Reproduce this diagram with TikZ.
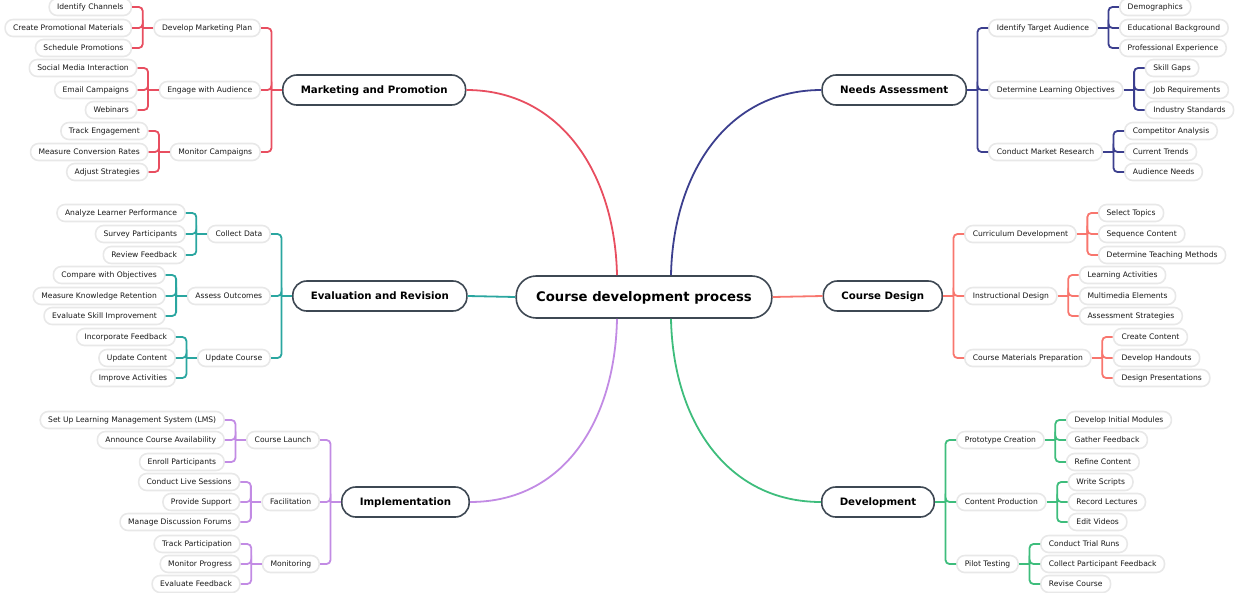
\documentclass[tikz,border=0pt]{standalone}
\usepackage{fontspec}
\setmainfont{DejaVu Sans}
\usetikzlibrary{positioning}

\definecolor{mkred}{HTML}{E84E60}
\definecolor{nanavy}{HTML}{3C3F8E}
\definecolor{evteal}{HTML}{2AA6A0}
\definecolor{cdcoral}{HTML}{F8766E}
\definecolor{imlilac}{HTML}{C28BE4}
\definecolor{dvgreen}{HTML}{3EBD7C}
\definecolor{boxedge}{HTML}{3E4853}

\begin{document}
\begin{tikzpicture}[x=1pt, y=-1pt, node distance=21pt,
  root/.style={draw=boxedge, line width=1.6pt, fill=white, rounded corners=20pt,
    minimum height=42pt, inner xsep=20pt, text height=9.6pt, text depth=1.5pt,
    font=\fontsize{13.2}{15}\selectfont\bfseries},
  topic/.style={draw=boxedge, line width=1.6pt, fill=white, rounded corners=14pt,
    minimum height=30pt, inner xsep=18pt, text height=7.4pt, text depth=1.2pt,
    font=\fontsize{10.2}{12}\selectfont\bfseries},
  leaf/.style={draw=black!9, line width=1.6pt, fill=white, rounded corners=8pt,
    minimum height=17pt, inner xsep=8pt, inner ysep=0pt, text=black!90,
    text height=5.5pt, text depth=1pt, font=\fontsize{7.6}{9}\selectfont},
  branch/.style={line width=1.8pt},
  fork/.style={line width=1.8pt, rounded corners=4pt}]
  \useasboundingbox (0,0) rectangle (1240,592);

  \node[root] (root) at (644,297) {Course development process};

  \node[topic, anchor=west] (mk) at (282,90) {Marketing and Promotion};
  \node[topic, anchor=east] (na) at (967,90) {Needs Assessment};
  \node[topic, anchor=west] (ev) at (292,296) {Evaluation and Revision};
  \node[topic, anchor=east] (cd) at (943,296) {Course Design};
  \node[topic, anchor=west] (im) at (341,502) {Implementation};
  \node[topic, anchor=east] (dv) at (935,502) {Development};

  % marketing
  \node[leaf, left=of mk, yshift=62pt] (mk1) {Develop Marketing Plan};
  \node[leaf, left=of mk] (mk2) {Engage with Audience};
  \node[leaf, left=of mk, yshift=-62pt] (mk3) {Monitor Campaigns};
  \node[leaf, left=of mk1, yshift=21pt] (mk11) {Identify Channels};
  \node[leaf, left=of mk1] (mk12) {Create Promotional Materials};
  \node[leaf, left=of mk1, yshift=-20pt] (mk13) {Schedule Promotions};
  \node[leaf, left=of mk2, yshift=22pt] (mk21) {Social Media Interaction};
  \node[leaf, left=of mk2] (mk22) {Email Campaigns};
  \node[leaf, left=of mk2, yshift=-20pt] (mk23) {Webinars};
  \node[leaf, left=of mk3, yshift=21pt] (mk31) {Track Engagement};
  \node[leaf, left=of mk3] (mk32) {Measure Conversion Rates};
  \node[leaf, left=of mk3, yshift=-20pt] (mk33) {Adjust Strategies};

  % needs assessment
  \node[leaf, right=of na, yshift=62pt] (na1) {Identify Target Audience};
  \node[leaf, right=of na] (na2) {Determine Learning Objectives};
  \node[leaf, right=of na, yshift=-62pt] (na3) {Conduct Market Research};
  \node[leaf, right=of na1, yshift=21pt] (na11) {Demographics};
  \node[leaf, right=of na1] (na12) {Educational Background};
  \node[leaf, right=of na1, yshift=-20pt] (na13) {Professional Experience};
  \node[leaf, right=of na2, yshift=22pt] (na21) {Skill Gaps};
  \node[leaf, right=of na2] (na22) {Job Requirements};
  \node[leaf, right=of na2, yshift=-20pt] (na23) {Industry Standards};
  \node[leaf, right=of na3, yshift=21pt] (na31) {Competitor Analysis};
  \node[leaf, right=of na3] (na32) {Current Trends};
  \node[leaf, right=of na3, yshift=-20pt] (na33) {Audience Needs};

  % evaluation
  \node[leaf, left=of ev, yshift=62pt] (ev1) {Collect Data};
  \node[leaf, left=of ev] (ev2) {Assess Outcomes};
  \node[leaf, left=of ev, yshift=-62pt] (ev3) {Update Course};
  \node[leaf, left=of ev1, yshift=21pt] (ev11) {Analyze Learner Performance};
  \node[leaf, left=of ev1] (ev12) {Survey Participants};
  \node[leaf, left=of ev1, yshift=-21pt] (ev13) {Review Feedback};
  \node[leaf, left=of ev2, yshift=21pt] (ev21) {Compare with Objectives};
  \node[leaf, left=of ev2] (ev22) {Measure Knowledge Retention};
  \node[leaf, left=of ev2, yshift=-20pt] (ev23) {Evaluate Skill Improvement};
  \node[leaf, left=of ev3, yshift=21pt] (ev31) {Incorporate Feedback};
  \node[leaf, left=of ev3] (ev32) {Update Content};
  \node[leaf, left=of ev3, yshift=-20pt] (ev33) {Improve Activities};

  % course design
  \node[leaf, right=of cd, yshift=62pt] (cd1) {Curriculum Development};
  \node[leaf, right=of cd] (cd2) {Instructional Design};
  \node[leaf, right=of cd, yshift=-62pt] (cd3) {Course Materials Preparation};
  \node[leaf, right=of cd1, yshift=21pt] (cd11) {Select Topics};
  \node[leaf, right=of cd1] (cd12) {Sequence Content};
  \node[leaf, right=of cd1, yshift=-21pt] (cd13) {Determine Teaching Methods};
  \node[leaf, right=of cd2, yshift=21pt] (cd21) {Learning Activities};
  \node[leaf, right=of cd2] (cd22) {Multimedia Elements};
  \node[leaf, right=of cd2, yshift=-20pt] (cd23) {Assessment Strategies};
  \node[leaf, right=of cd3, yshift=21pt] (cd31) {Create Content};
  \node[leaf, right=of cd3] (cd32) {Develop Handouts};
  \node[leaf, right=of cd3, yshift=-20pt] (cd33) {Design Presentations};

  % implementation
  \node[leaf, left=of im, yshift=62pt] (im1) {Course Launch};
  \node[leaf, left=of im] (im2) {Facilitation};
  \node[leaf, left=of im, yshift=-62pt] (im3) {Monitoring};
  \node[leaf, left=of im1, yshift=20pt] (im11) {Set Up Learning Management System (LMS)};
  \node[leaf, left=of im1] (im12) {Announce Course Availability};
  \node[leaf, left=of im1, yshift=-22pt] (im13) {Enroll Participants};
  \node[leaf, left=of im2, yshift=20pt] (im21) {Conduct Live Sessions};
  \node[leaf, left=of im2] (im22) {Provide Support};
  \node[leaf, left=of im2, yshift=-20pt] (im23) {Manage Discussion Forums};
  \node[leaf, left=of im3, yshift=20pt] (im31) {Track Participation};
  \node[leaf, left=of im3] (im32) {Monitor Progress};
  \node[leaf, left=of im3, yshift=-20pt] (im33) {Evaluate Feedback};

  % development
  \node[leaf, right=of dv, yshift=62pt] (dv1) {Prototype Creation};
  \node[leaf, right=of dv] (dv2) {Content Production};
  \node[leaf, right=of dv, yshift=-62pt] (dv3) {Pilot Testing};
  \node[leaf, right=of dv1, yshift=20pt] (dv11) {Develop Initial Modules};
  \node[leaf, right=of dv1] (dv12) {Gather Feedback};
  \node[leaf, right=of dv1, yshift=-22pt] (dv13) {Refine Content};
  \node[leaf, right=of dv2, yshift=20pt] (dv21) {Write Scripts};
  \node[leaf, right=of dv2] (dv22) {Record Lectures};
  \node[leaf, right=of dv2, yshift=-20pt] (dv23) {Edit Videos};
  \node[leaf, right=of dv3, yshift=20pt] (dv31) {Conduct Trial Runs};
  \node[leaf, right=of dv3] (dv32) {Collect Participant Feedback};
  \node[leaf, right=of dv3, yshift=-20pt] (dv33) {Revise Course};

  % main branches
  \coordinate (rtl) at ([xshift=-27pt]root.north);
  \coordinate (rtr) at ([xshift=27pt]root.north);
  \coordinate (rbl) at ([xshift=-27pt]root.south);
  \coordinate (rbr) at ([xshift=27pt]root.south);
  \draw[branch, mkred] (rtl) .. controls +(-2,-102) and +(94,0) .. (mk.east);
  \draw[branch, nanavy] (rtr) .. controls +(2,-102) and +(-94,0) .. (na.west);
  \draw[branch, imlilac] (rbl) .. controls +(-2,102) and +(94,0) .. (im.east);
  \draw[branch, dvgreen] (rbr) .. controls +(2,102) and +(-94,0) .. (dv.west);
  \draw[branch, evteal] (root.west) -- (ev.east);
  \draw[branch, cdcoral] (root.east) -- (cd.west);

  % forks to the left
  \foreach \p/\col in {mk/mkred, mk1/mkred, mk2/mkred, mk3/mkred,
      ev/evteal, ev1/evteal, ev2/evteal, ev3/evteal,
      im/imlilac, im1/imlilac, im2/imlilac, im3/imlilac}{
    \draw[fork, draw=\col] (\p.west) -- ++(-10.5,0) coordinate (f);
    \foreach \k in {1,2,3}
      \draw[fork, draw=\col] (f) |- (\p\k.east);
  }
  % forks to the right
  \foreach \p/\col in {na/nanavy, na1/nanavy, na2/nanavy, na3/nanavy,
      cd/cdcoral, cd1/cdcoral, cd2/cdcoral, cd3/cdcoral,
      dv/dvgreen, dv1/dvgreen, dv2/dvgreen, dv3/dvgreen}{
    \draw[fork, draw=\col] (\p.east) -- ++(10.5,0) coordinate (f);
    \foreach \k in {1,2,3}
      \draw[fork, draw=\col] (f) |- (\p\k.west);
  }
\end{tikzpicture}
\end{document}
